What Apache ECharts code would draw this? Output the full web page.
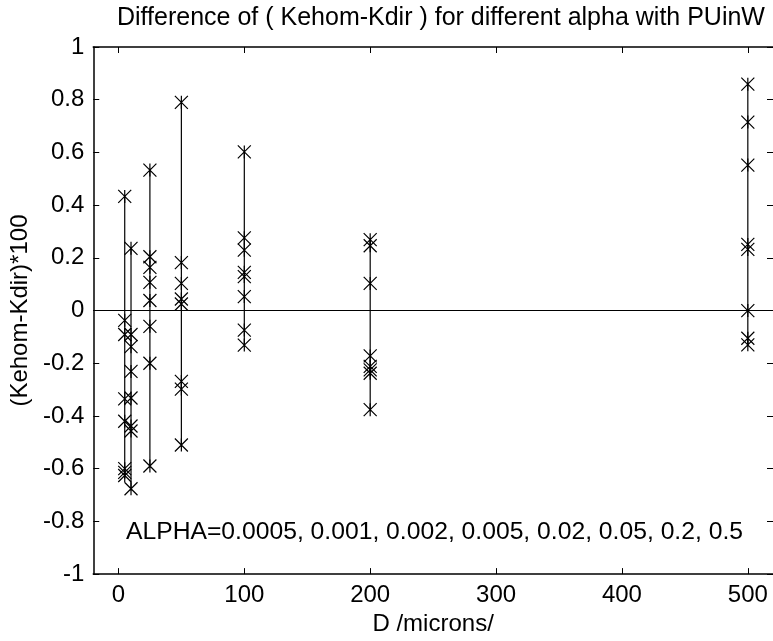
<!DOCTYPE html>
<html>
<head>
<meta charset="utf-8">
<script src="https://cdn.jsdelivr.net/npm/echarts@6/dist/echarts.min.js"></script>
<style>
html,body{margin:0;padding:0;background:#fff;}
#chart{width:773px;height:641px;}
</style>
</head>
<body>
<div id="chart"></div>
<script>
// D values (microns)
const D = [5, 10, 25, 50, 100, 200, 500];
// (Kehom-Kdir)*100 for the 8 alpha values at each D
const vals5   = [0.433, -0.037, -0.091, -0.335, -0.42, -0.60, -0.614, -0.626];
const vals10  = [0.236, -0.091, -0.137, -0.231, -0.332, -0.438, -0.457, -0.676];
const vals25  = [0.533, 0.204, 0.164, 0.107, 0.038, -0.06, -0.20, -0.59];
const vals50  = [0.79, 0.182, 0.103, 0.044, 0.025, -0.269, -0.298, -0.51];
const vals100 = [0.602, 0.276, 0.229, 0.145, 0.129, 0.053, -0.074, -0.131];
const vals200 = [0.269, 0.246, 0.103, -0.172, -0.212, -0.225, -0.238, -0.376];
const vals500 = [0.859, 0.715, 0.552, 0.251, 0.232, 0.0, -0.105, -0.13];
const groups = [vals5, vals10, vals25, vals50, vals100, vals200, vals500];
const xTicks = [0, 100, 200, 300, 400, 500];
const titleText = 'Difference of ( Kehom-Kdir ) for different alpha with PUinW';
const noteText = 'ALPHA=0.0005, 0.001, 0.002, 0.005, 0.02, 0.05, 0.2, 0.5';

const FONT = 'Liberation Sans, Arial, sans-serif';
const star = 'path://M0,-6L0,6M-6,-6L6,6M-6,6L6,-6';

const series = groups.map((g, i) => {
  const sorted = g.slice().sort((a, b) => b - a);
  const s = {
    type: 'line',
    xAxisIndex: 0, yAxisIndex: 0,
    data: sorted.map(v => [D[i], v]),
    symbol: star,
    symbolSize: 13,
    showSymbol: true,
    showAllSymbol: true,
    lineStyle: {color: '#000', width: 1.2},
    itemStyle: {color: '#000', borderColor: '#000', borderWidth: 1.2},
    emphasis: {disabled: true},
    silent: true,
    z: 3
  };
  if (i === 0) {
    s.markLine = {
      silent: true, symbol: 'none', animation: false,
      label: {show: false},
      lineStyle: {color: '#000', width: 1.2, type: 'solid'},
      data: [{yAxis: 0}]
    };
  }
  return s;
});

const chart = echarts.init(document.getElementById('chart'), null, {renderer: 'canvas'});
chart.setOption({
  animation: false,
  backgroundColor: '#fff',
  title: {
    text: titleText,
    left: 112, top: 1,
    textStyle: {fontFamily: FONT, fontSize: 25, fontWeight: 'normal', color: '#000'}
  },
  grid: {left: 90, right: 0, top: 47, bottom: 62, containLabel: false},
  xAxis: [{
    type: 'value', min: -20, max: 520, position: 'bottom',
    name: 'D /microns/', nameLocation: 'middle', nameGap: 31,
    nameTextStyle: {fontFamily: FONT, fontSize: 24, color: '#000'},
    axisLine: {show: true, onZero: false, lineStyle: {color: '#000', width: 1.5}},
    axisTick: {show: true, inside: true, length: 6, customValues: xTicks, lineStyle: {color: '#000', width: 1}},
    axisLabel: {show: true, customValues: xTicks, margin: 9, fontFamily: FONT, fontSize: 24, color: '#000'},
    splitLine: {show: false}
  }, {
    type: 'value', min: -20, max: 520, position: 'top',
    axisLine: {show: true, onZero: false, lineStyle: {color: '#000', width: 1.5}},
    axisTick: {show: true, inside: true, length: 6, customValues: xTicks, lineStyle: {color: '#000', width: 1}},
    axisLabel: {show: false},
    splitLine: {show: false}
  }],
  yAxis: [{
    type: 'value', min: -1, max: 1, interval: 0.2, position: 'left',
    name: '(Kehom-Kdir)*100', nameLocation: 'middle', nameGap: 50, nameRotate: 90,
    nameTextStyle: {fontFamily: FONT, fontSize: 24, color: '#000'},
    axisLine: {show: true, onZero: false, lineStyle: {color: '#000', width: 1.5}},
    axisTick: {show: true, inside: true, length: 6, lineStyle: {color: '#000', width: 1}},
    axisLabel: {show: true, margin: 9, fontFamily: FONT, fontSize: 24, color: '#000',
      formatter: v => String(Math.round(v * 10) / 10)},
    splitLine: {show: false}
  }, {
    type: 'value', min: -1, max: 1, interval: 0.2, position: 'right',
    axisLine: {show: false, onZero: false, lineStyle: {color: 'rgba(0,0,0,0)', width: 0}},
    axisTick: {show: true, inside: true, length: 6, lineStyle: {color: '#000', width: 1}},
    axisLabel: {show: false},
    splitLine: {show: false}
  }],
  graphic: [{
    type: 'text', left: 126, top: 520,
    style: {text: noteText, font: '24.7px ' + FONT, fill: '#000'},
    silent: true
  }],
  series: series
});
</script>
</body>
</html>
